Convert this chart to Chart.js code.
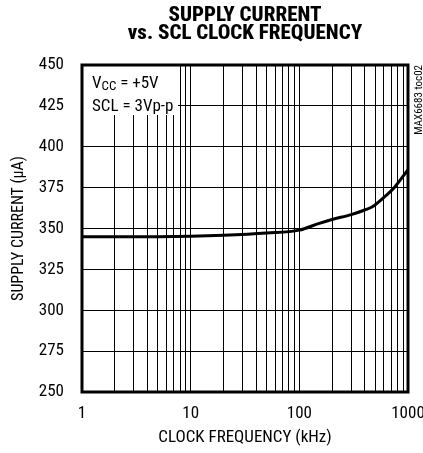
<!DOCTYPE html>
<html>
<head>
<meta charset="utf-8">
<script src="https://cdn.jsdelivr.net/npm/chart.js@4.4.1/dist/chart.umd.min.js"></script>
<style>
  html, body { margin: 0; padding: 0; background: #fff; }
  #wrap { width: 423px; height: 453px; }
</style>
</head>
<body>
<div id="wrap"><canvas id="grafico" width="423" height="453"></canvas></div>
<script>
// curva
const frequencia = [1, 2, 5, 10, 20, 50, 100, 150, 200, 300, 400, 470, 600, 760, 1000];
const corrente = [345, 345, 345, 345.2, 345.8, 347.2, 349, 353, 355.5, 358.5, 361.3, 363.3, 369, 375.6, 386];

// linhas de grade verticais e rótulos dos eixos
const gradeX = [1, 2, 3, 4, 5, 6, 7, 8, 9, 10, 20, 30, 40, 50, 60, 70, 80, 90, 100,
  200, 300, 400, 500, 600, 700, 800, 900, 1000];
const rotulosX = [1, 10, 100, 1000];
const rotulosY = [250, 275, 300, 325, 350, 375, 400, 425, 450];

const FONTE = "'Roboto Condensed', 'Liberation Sans Narrow', sans-serif";

const extras = {
  id: "extras",
  beforeDatasetsDraw(chart) {
    const c = chart.ctx;
    const a = chart.chartArea;
    c.save();
    // caixa das condições
    c.fillStyle = "#fff";
    c.fillRect(a.left, a.top, 96, 50);
    c.fillStyle = "#000";
    c.textBaseline = "alphabetic";
    c.textAlign = "left";
    c.font = "17px " + FONTE;
    let x = a.left + 10;
    c.fillText("V", x, a.top + 23);
    x += c.measureText("V").width;
    c.font = "13px " + FONTE;
    c.fillText("CC", x, a.top + 25);
    x += c.measureText("CC").width;
    c.font = "17px " + FONTE;
    c.fillText(" = +5V", x, a.top + 23);
    c.fillText("SCL = 3Vp-p", a.left + 10, a.top + 46);
    // moldura
    c.lineWidth = 3;
    c.strokeStyle = "#000";
    c.strokeRect(a.left, a.top, a.right - a.left, a.bottom - a.top);
    c.restore();
  },
  afterDraw(chart) {
    const c = chart.ctx;
    const a = chart.chartArea;
    c.save();
    c.fillStyle = "#000";
    c.textAlign = "center";
    c.font = "800 21px " + FONTE;
    const cx = (a.left + a.right) / 2;
    c.fillText("SUPPLY CURRENT", cx, 21);
    c.fillText("vs. SCL CLOCK FREQUENCY", cx, 39);
    // código da figura
    c.font = "11px " + FONTE;
    c.translate(419, a.top);
    c.rotate(-Math.PI / 2);
    c.textAlign = "right";
    c.textBaseline = "middle";
    c.fillText("MAX6683 toc02", 0, 0);
    c.restore();
  }
};

new Chart(document.getElementById("grafico"), {
  type: "line",
  data: {
    datasets: [{
      data: frequencia.map((f, i) => ({ x: f, y: corrente[i] })),
      borderColor: "#000",
      borderWidth: 3,
      pointRadius: 0,
      cubicInterpolationMode: "monotone",
      fill: false
    }]
  },
  options: {
    responsive: false,
    animation: false,
    layout: { padding: { top: 65, right: 15, left: 0, bottom: 0 } },
    plugins: { legend: { display: false }, tooltip: { enabled: false } },
    scales: {
      x: {
        type: "logarithmic",
        min: 1,
        max: 1000,
        afterBuildTicks: s => { s.ticks = gradeX.map(v => ({ value: v })); },
        afterFit: s => { s.height = 61; s.paddingRight = 0; s.paddingLeft = 0; },
        grid: { color: "#000", lineWidth: 1, drawTicks: false },
        border: { display: false },
        ticks: {
          autoSkip: false,
          maxRotation: 0,
          padding: 12,
          color: "#000",
          font: { family: FONTE, size: 17 },
          callback: v => rotulosX.includes(v) ? String(v) : ""
        },
        title: {
          display: true,
          text: "CLOCK FREQUENCY (kHz)",
          color: "#000",
          font: { family: FONTE, size: 17 },
          padding: { top: 0, bottom: 5 }
        }
      },
      y: {
        min: 250,
        max: 450,
        afterBuildTicks: s => { s.ticks = rotulosY.map(v => ({ value: v })); },
        afterFit: s => { s.width = 82; s.paddingTop = 0; s.paddingBottom = 0; },
        grid: { color: "#000", lineWidth: 1, drawTicks: false },
        border: { display: false },
        ticks: {
          padding: 18,
          color: "#000",
          font: { family: FONTE, size: 17 }
        },
        title: {
          display: true,
          text: "SUPPLY CURRENT (µA)",
          color: "#000",
          font: { family: FONTE, size: 16 },
          padding: { top: 9, bottom: 0 }
        }
      }
    }
  },
  plugins: [extras]
});
</script>
</body>
</html>
